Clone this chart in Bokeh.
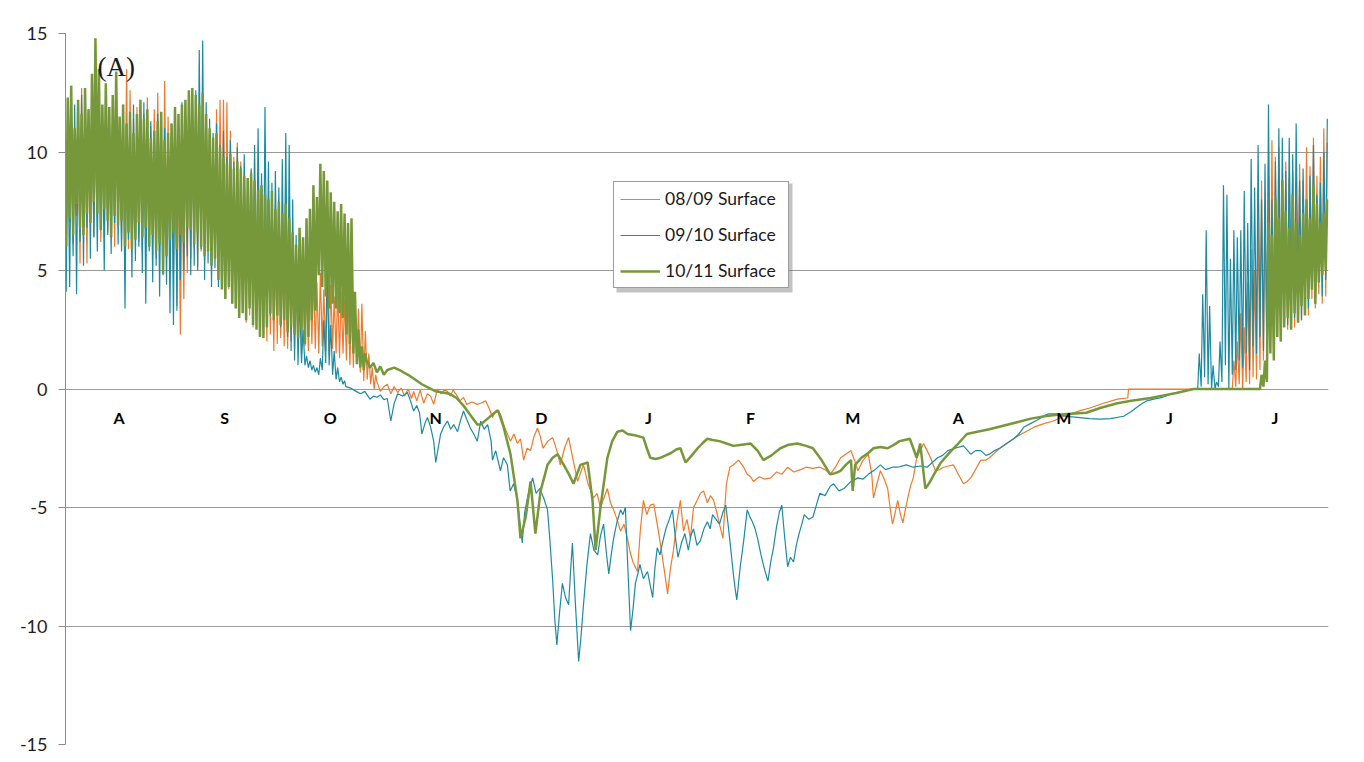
from bokeh.plotting import figure
from bokeh.models import FixedTicker, Legend, LegendItem, Label, BoxAnnotation, ColumnDataSource
from bokeh.embed import file_html
from bokeh.resources import INLINE
from bokeh.core.properties import value

# ---------------- data (days counted from 1 August) ----------------
MONTHS = ["A", "S", "O", "N", "D", "J", "F", "M", "A", "M", "J", "J"]
MONTH_DAYS = [31, 30, 31, 30, 31, 31, 28, 31, 30, 31, 30, 31]
Y_TICKS = [-15, -10, -5, 0, 5, 10, 15]
SERIES_NAMES = ["08/09 Surface", "09/10 Surface", "10/11 Surface"]

# 08/09 Surface : daily max / min (Aug 1 ..), smooth winter part, daily max / min at end
S0809_OSC_HI = [11.0, 11.8, 10.5, 12.0, 12.7, 11.3, 10.9, 11.6, 12.2, 10.8,
                11.5, 12.1, 11.0, 11.7, 12.4, 11.2, 12.0, 13.5, 12.6, 11.4,
                11.9, 10.8, 11.6, 12.3, 11.1, 11.8, 12.5, 11.0, 13.0, 11.5,
                10.6, 11.2, 10.1, 9.0, 10.8, 11.4, 10.5, 11.9, 11.2, 10.7,
                11.5, 11.0, 10.6, 11.8, 12.2, 12.2, 12.1, 10.9, 9.8, 10.4,
                9.6, 9.0, 8.7, 9.2, 8.3, 8.0, 8.6, 7.5, 7.1, 6.8,
                6.3, 5.9, 6.5, 5.6, 6.1, 5.4, 5.8, 5.0, 5.3, 4.7,
                5.1, 4.85, 4.5, 4.9, 4.2, 4.6, 4.4, 3.9, 4.3, 4.1,
                3.8, 4.1, 3.6, 3.9, 3.4, 3.6, 2.45, 1.5, 0.9, 0.6]
S0809_OSC_LO = [6.5, 7.0, 6.1, 7.3, 5.3, 6.8, 5.3, 7.1, 6.4, 7.6,
                6.2, 7.0, 6.6, 7.4, 6.0, 6.9, 6.3, 7.2, 5.9, 6.6,
                7.0, 6.2, 5.8, 6.7, 6.1, 6.9, 5.5, 6.4, 5.9, 6.3,
                5.6, 4.8, 3.5, 2.3, 3.8, 4.9, 5.5, 6.0, 5.2, 5.8,
                5.4, 6.0, 5.1, 5.7, 5.0, 5.5, 4.8, 4.2, 3.6, 3.8,
                3.2, 3.5, 2.8, 3.1, 2.6, 2.9, 2.2, 2.5, 2.0, 2.3,
                1.6, 1.9, 2.15, 1.8, 1.7, 2.0, 1.7, 1.9, 1.5, 1.8,
                1.6, 1.9, 1.7, 1.5, 1.8, 1.6, 1.4, 1.7, 1.5, 1.3,
                1.5, 1.2, 1.0, 0.9, 1.1, 0.7, 0.34, 0.4, 0.2, 0.0]
S0809_MID_DAY = [90, 91, 92, 93, 94, 95, 96, 97, 98, 99, 100, 100.6, 101.5, 102.5, 103.5, 104.6,
                 105.5, 106.4, 107.5, 108.5, 109.5, 110.4, 111.2, 112, 113, 114, 115, 116, 117.5,
                 119, 120, 121.4, 122.4, 123.4, 124.5, 125.7, 127, 128.6, 129.6, 130.6, 131.5,
                 132.4, 133.4, 134.4, 135.4, 136.4, 137.2, 138, 139.4, 140.8, 142, 143, 144.2,
                 145.4, 146.7, 148, 148.9, 149.7, 151, 152.6, 153.6, 154.6, 155.6, 156.6, 157.5,
                 158.4, 159.4, 160.4, 161.4, 162.4, 163.2, 164, 165.3, 166.1, 167, 168, 169, 170,
                 171, 172, 172.8, 173.4, 174, 174.8, 175.7, 176.7, 177.7, 178.6, 179.6, 180.6,
                 181.5, 182.5, 183.5, 184.4, 185.5, 186.4, 187.3, 188.2, 189, 190, 191, 192, 193,
                 194.5, 196, 197, 198, 198.8, 200.5, 202, 203.8, 205.5, 207, 208.7, 210.5, 212.4,
                 214, 216, 218, 219.5, 221, 222.5, 224, 225.5, 227, 228, 229, 230.5, 232, 233,
                 233.5, 234.5, 235.5, 236.6, 237.6, 238.3, 239, 239.8, 240.5, 241.3, 242, 242.7,
                 243.4, 244.2, 245, 246, 247, 248, 249, 250, 251.4, 252.6, 253.8, 255.2, 256.6,
                 258, 259.5, 260.6, 261.6, 263, 264.5, 266, 267, 268.5, 270, 272.5, 275, 277.5,
                 280, 283, 285.5, 288.5, 291.3, 293.5, 296, 300, 304, 307, 307.2, 336]
S0809_MID_VAL = [0.3, -0.1, 0.1, 0.2, -0.2, 0.1, -0.15, 0.04, -0.3, 0.0, -0.4, -0.1, -0.5, -0.05, -0.6, -0.2,
                 -0.3, -0.65, 0.0, -0.2, -0.05, -0.1, -0.3, -0.05, -0.25, -0.5, -0.35, -0.65, -0.55,
                 -0.65, -0.6, -0.5, -0.8, -1.2, -0.9, -1.05, -1.65, -2.2, -1.9, -2.3, -2.1,
                 -3.0, -2.5, -2.6, -2.0, -1.65, -2.0, -2.5, -2.2, -2.05, -2.6, -3.2, -2.5,
                 -2.05, -3.0, -3.9, -3.5, -3.2, -4.0, -4.6, -4.4, -5.0, -4.6, -4.2, -4.8,
                 -5.1, -5.5, -6.0, -5.7, -6.3, -6.9, -7.3, -7.7, -6.0, -4.7, -5.3, -4.9, -4.85,
                 -5.7, -6.6, -7.4, -8.0, -8.65, -7.6, -6.8, -5.6, -4.7, -6.0, -5.5, -6.3,
                 -5.0, -4.7, -4.4, -4.3, -4.8, -4.5, -4.7, -5.2, -5.7, -6.3, -4.0, -3.3, -3.2,
                 -3.0, -3.3, -3.6, -3.7, -3.9, -3.7, -3.8, -3.75, -3.5, -3.6, -3.3, -3.5, -3.4,
                 -3.3, -3.35, -3.3, -3.4, -3.6, -3.3, -2.9, -2.75, -2.6, -3.0, -3.45, -3.0, -2.75, -3.6,
                 -4.6, -4.0, -3.45, -3.8, -4.2, -5.0, -5.7, -5.2, -4.7, -5.3, -5.65, -5.1,
                 -4.6, -4.1, -3.75, -2.9, -2.6, -2.3, -2.6, -2.9, -3.45, -3.4, -3.3, -3.25, -3.2,
                 -3.6, -4.0, -3.9, -3.75, -3.4, -3.0, -3.0, -2.9, -2.7, -2.5, -2.25, -2.0, -1.8,
                 -1.6, -1.45, -1.35, -1.15, -1.0, -0.9, -0.8, -0.6, -0.43, -0.38, 0.0, 0.0]
S0809_END_START = 337
S0809_END_HI = [1.2, 2.0, 3.2, 2.6, 4.5, 5.9, 5.0, 7.4, 8.8, 7.8, 9.6, 10.5, 9.8, 10.2,
                8.4, 9.6, 8.9, 9.2, 8.6, 9.5, 8.8, 10.2, 9.4, 10.6, 9.0, 9.8, 11.0, 10.4]
S0809_END_LO = [0.0, 0.1, 0.2, 0.0, 0.3, 0.2, 0.5, 0.4, 0.8, 1.2, 1.0, 1.8, 1.5, 2.4,
                2.0, 2.8, 2.5, 3.0, 2.6, 3.3, 2.9, 3.5, 3.1, 3.8, 3.4, 4.0, 3.6, 3.9]

# 09/10 Surface
S0910_OSC_HI = [11.5, 10.8, 12.0, 11.2, 12.4, 11.0, 11.8, 12.6, 11.4, 12.2,
                11.3, 12.0, 10.9, 11.8, 12.5, 11.1, 11.7, 10.6, 11.4, 12.0,
                10.8, 11.5, 12.1, 10.9, 11.3, 10.7, 11.6, 10.4, 11.0, 10.5,
                11.2, 11.8, 10.9, 12.1, 11.4, 12.3, 11.9, 12.6, 14.3, 14.7,
                12.1, 11.4, 10.8, 11.2, 10.3, 10.9, 9.8, 10.5, 9.6, 10.2,
                9.4, 9.9, 8.8, 9.3, 10.3, 11.0, 9.1, 11.9, 9.6, 8.7,
                9.2, 8.5, 9.7, 10.8, 10.3, 8.0, 6.5, 4.0, 2.5, 1.4,
                1.2, 1.0, 0.9, 1.3, 2.9, 5.5, 2.7, 1.6, 0.9, 0.5, 0.35]
S0910_OSC_LO = [4.1, 4.3, 5.6, 4.0, 6.2, 5.2, 6.8, 5.5, 6.4, 5.8,
                6.9, 5.0, 6.5, 5.7, 7.0, 6.1, 5.8, 3.4, 6.3, 4.7,
                5.4, 6.0, 4.9, 3.6, 5.8, 4.5, 5.2, 3.9, 4.8, 4.4,
                3.2, 2.7, 3.3, 4.6, 5.0, 5.6, 4.8, 5.2, 5.0, 5.9,
                4.6, 5.3, 4.3, 5.1, 4.3, 4.8, 4.4, 5.0, 4.1, 4.7,
                4.3, 5.2, 4.0, 3.5, 4.8, 3.3, 4.2, 2.9, 3.6, 3.1,
                2.9, 3.4, 2.6, 3.0, 2.2, 1.6, 1.2, 1.0, 1.1, 1.0,
                0.9, 0.8, 0.7, 0.6, 0.8, 1.1, 1.0, 0.6, 0.4, 0.3, 0.2]
S0910_MID_DAY = [81, 82.4, 84, 85.3, 86.5, 88, 89, 90, 91, 92, 93, 94, 95, 96, 97.5, 98.8, 99.7,
                 100.6, 101.5, 102.3, 103, 104, 104.6, 105.5, 106.4, 107, 107.7, 108.4, 109.3,
                 110.4, 111.3, 112.2, 113.3, 114.2, 115, 116, 117, 118, 119, 120, 121, 122, 123,
                 123.4, 124.3, 125.7, 126.6, 127.7, 128.5, 129.5, 130.6, 131.3, 132, 132.7, 133.5,
                 134.3, 135, 136, 137, 138.2, 139.3, 140, 140.8, 141.4, 142, 142.8, 143.6, 144.5,
                 145.4, 146, 146.5, 147.3, 148.3, 149, 149.7, 150.7, 151.7, 152.7, 153.8, 154.6,
                 155.5, 156.3, 157, 157.7, 158.4, 159.4, 160.4, 161.1, 161.8, 162.5, 163.3, 164,
                 164.7, 165.4, 166, 167, 168.2, 169, 169.7, 170.3, 171, 171.8, 172.5, 173.5, 174.5,
                 175.4, 176.2, 177, 178, 179, 180, 180.7, 181.5, 182.5, 183.5, 184.5, 185.5, 186.3,
                 187, 188, 189, 190, 190.8, 191.4, 192, 192.5, 193, 193.5, 194, 194.5, 195, 196,
                 197, 197.8, 198.5, 199.3, 200, 201, 202, 203, 203.8, 204.6, 205.5, 206.3, 207,
                 207.8, 208.7, 209.5, 210.4, 211.2, 212, 212.8, 213.5, 214.8, 216, 217, 218, 219.5,
                 221, 222, 223.5, 225, 227, 229, 230.5, 232, 234, 235.5, 237, 239, 240.5, 243, 245,
                 247, 249, 250.5, 252, 253.5, 255, 257, 259.5, 261.6, 263, 264.5, 266, 267, 268.5,
                 270, 272, 274, 275.5, 277, 279, 281, 282.5, 284, 286.7, 289, 292.5, 296, 299, 302,
                 305.8, 308, 310.7, 312.5, 314.5, 317, 320, 323, 326]
S0910_MID_VAL = [0.1, 0.04, -0.1, -0.2, -0.1, -0.43, -0.3, -0.35, -0.25, -0.45, -0.4, -1.35, -0.6, -0.2, -0.3, -0.15, -0.5,
                 -0.93, -0.7, -1.0, -1.9, -1.4, -1.2, -1.6, -2.2, -3.1, -2.5, -1.9, -1.6,
                 -1.35, -1.7, -1.5, -1.8, -1.3, -0.93, -1.3, -1.65, -1.9, -2.2, -1.35, -1.7, -1.5, -2.2,
                 -3.0, -2.6, -3.45, -2.9, -3.2, -4.3, -4.0, -4.7, -5.6, -6.5, -5.2, -4.6,
                 -4.1, -3.75, -4.4, -4.2, -4.6, -5.1, -6.4, -8.1, -9.7, -10.8, -9.4, -8.2, -8.8,
                 -9.1, -7.6, -6.5, -8.9, -11.5, -10.4, -9.1, -7.4, -6.1, -6.8, -7.0, -6.2,
                 -5.7, -6.9, -7.8, -7.0, -6.3, -5.6, -5.1, -5.3, -5.0, -7.5, -10.2, -9.3,
                 -8.2, -7.8, -7.4, -8.0, -7.7, -8.3, -8.8, -7.6, -6.7, -7.0, -6.5, -5.9, -5.5,
                 -5.1, -6.2, -7.1, -6.5, -6.1, -6.8, -6.2, -5.9, -6.6, -6.4, -5.9, -5.6, -5.9,
                 -5.3, -5.5, -5.7, -5.2, -4.9, -5.6, -6.4, -7.1, -7.8, -8.4, -8.9, -8.2, -7.5, -6.4,
                 -5.1, -5.4, -5.6, -5.9, -6.3, -7.0, -7.6, -8.1, -7.3, -6.7, -5.8, -5.2, -4.9,
                 -6.2, -7.5, -7.1, -7.3, -6.6, -6.1, -5.7, -5.3, -5.5, -5.4, -4.9, -4.4, -4.5,
                 -4.1, -4.0, -4.3, -4.2, -3.9, -3.75, -3.8, -3.6, -3.4, -3.2, -3.4, -3.3, -3.3, -3.2, -3.3,
                 -3.25, -3.3, -3.1, -2.9, -2.8, -2.6, -2.5, -2.4, -2.75, -2.6, -2.6, -2.8, -2.75, -2.6,
                 -2.5, -2.3, -2.1, -1.9, -1.6, -1.45, -1.3, -1.15, -1.05, -1.05, -1.15, -1.2, -1.25, -1.27, -1.25,
                 -1.15, -0.95, -0.65, -0.5, -0.43, -0.35, -0.2, -0.1, 0.0]
S0910_END_START = 327
S0910_END_HI = [1.5, 4.0, 6.7, 3.5, 1.0, 0.3, 2.0, 8.6, 8.2, 5.5, 6.7, 6.4, 6.7, 8.35, 7.0,
                9.7, 8.5, 10.3, 8.0, 9.5, 12.0, 8.0, 9.6, 11.0, 10.6, 9.2, 10.6, 9.9, 11.2,
                8.8, 9.3, 7.8, 9.0, 10.3, 8.2, 8.7, 10.0, 11.4]
S0910_END_LO = [0.0, 0.1, 0.5, 0.2, 0.0, 0.0, 0.1, 0.3, 1.0, 0.0, 0.6, 0.8, 1.2, 0.9, 1.5,
                0.8, 1.8, 1.5, 2.2, 1.6, 1.5, 2.8, 2.0, 3.0, 2.4, 3.2, 2.7, 3.5, 3.0,
                3.8, 2.9, 4.0, 3.4, 4.2, 3.6, 4.5, 3.9, 4.6]

# 10/11 Surface
S1011_OSC_HI = [12.3, 12.8, 11.0, 12.2, 11.6, 12.7, 11.8, 13.3, 14.8, 13.5,
                12.0, 12.9, 11.9, 12.4, 13.4, 11.5, 12.0, 11.2, 11.7, 10.8,
                11.6, 12.2, 11.4, 11.8, 10.6, 10.9, 11.3, 11.7, 10.5, 10.8,
                11.2, 11.9, 11.6, 12.0, 12.2, 12.6, 12.7, 12.4, 12.0, 12.5,
                11.6, 11.0, 10.6, 10.8, 10.2, 9.8, 9.5, 9.9, 9.3, 9.6,
                9.3, 9.0, 8.9, 9.1, 8.8, 8.4, 8.6, 8.2, 8.0, 8.35,
                7.6, 7.9, 7.4, 7.8, 7.2, 6.6, 6.1, 6.8, 6.4, 7.2,
                7.6, 8.6, 8.1, 9.5, 9.2, 8.8, 8.3, 7.9, 7.5, 7.8,
                7.4, 7.0, 7.2, 4.1, 2.5, 1.8, 1.5]
S1011_OSC_LO = [6.0, 7.2, 6.5, 7.8, 6.8, 6.5, 7.4, 7.0, 7.9, 7.4,
                6.7, 7.6, 7.1, 6.4, 7.3, 6.9, 7.1, 6.0, 6.6, 5.9,
                6.3, 7.0, 6.4, 6.8, 6.0, 6.5, 5.8, 6.1, 4.85, 5.6,
                6.3, 6.6, 5.9, 6.5, 6.2, 6.8, 6.7, 6.1, 6.6, 6.0,
                5.6, 5.8, 5.2, 5.5, 4.6, 4.2, 3.8, 4.3, 3.6, 3.4,
                3.0, 3.2, 2.9, 3.4, 2.7, 2.5, 2.2, 2.15, 2.6, 3.2,
                2.9, 3.1, 2.7, 2.9, 2.4, 2.6, 2.3, 2.15, 2.5, 1.9,
                2.2, 2.9, 3.3, 4.8, 4.3, 3.9, 3.4, 3.6, 3.4, 3.2,
                3.0, 2.3, 1.9, 1.5, 1.05, 0.9, 0.8]
S1011_MID_DAY = [87, 88, 89, 90, 91, 92, 93, 95, 97, 99, 101, 103, 105, 107, 109, 111, 113, 115,
                 117, 119, 120, 122, 124, 125, 126.6, 128.6, 130.6, 131.5, 133, 134.4, 135.8,
                 137.3, 139.3, 140.8, 142.2, 144, 145.5, 146.8, 148.8, 150.9, 152.3, 153.2, 154.6, 156.6,
                 158, 159.5, 161, 162.4, 164.5, 167, 168, 169, 170.5, 172, 173.5, 175, 176.5, 177.7,
                 179.2, 181, 182.7, 184, 185.5, 187, 189, 191, 193, 195.5, 198, 200, 201.7, 204,
                 206.6, 209, 211.5, 214, 216, 218.5, 221, 222.5, 224, 225.5, 227, 227.5, 228.2,
                 230, 232, 233.5, 235.5, 237.6, 239.5, 241, 242.5, 244, 245, 246, 247, 248.5,
                 249.5, 251, 253, 256, 258, 260.5, 263.5, 267, 271, 275, 279, 283, 286, 289.6, 295,
                 299, 304, 308, 313.6, 317, 321, 326, 344]
S1011_MID_VAL = [1.2, 0.9, 1.1, 0.7, 0.95, 0.6, 0.8, 0.9, 0.76, 0.6, 0.4, 0.2, 0.05, -0.1, -0.15, -0.2, -0.38, -0.7,
                 -1.1, -1.5, -1.5, -1.25, -1.0, -0.9, -1.6, -2.75, -4.7, -6.3, -5.4, -3.9, -6.1,
                 -4.3, -3.2, -2.9, -2.75, -3.2, -3.6, -4.0, -3.2, -3.1, -4.7, -6.8, -5.0, -2.9,
                 -2.2, -1.8, -1.75, -1.9, -1.95, -2.05, -2.5, -2.9, -2.95, -2.9, -2.8, -2.7, -2.55, -2.5,
                 -3.1, -2.8, -2.5, -2.3, -2.1, -2.15, -2.2, -2.3, -2.4, -2.35, -2.3, -2.6, -3.0, -2.8,
                 -2.5, -2.35, -2.3, -2.4, -2.5, -3.0, -3.6, -3.55, -3.45, -3.2, -3.0, -4.3, -3.2,
                 -2.9, -2.7, -2.5, -2.45, -2.5, -2.35, -2.2, -2.15, -2.1, -2.5, -2.9, -2.3, -4.2,
                 -4.0, -3.6, -3.1, -2.6, -2.3, -1.9, -1.8, -1.7, -1.55, -1.4, -1.25, -1.15, -1.1, -1.05, -1.0,
                 -0.8, -0.6, -0.5, -0.38, -0.28, -0.17, 0.0, 0.0]
S1011_END_START = 345
S1011_END_HI = [0.6, 1.2, 7.0, 6.5, 8.0, 7.2, 8.8, 7.5, 6.8, 8.2, 7.0, 6.5, 7.4, 8.0, 7.2,
                8.6, 7.8, 7.0, 7.4, 8.0]
S1011_END_LO = [0.0, 0.1, 0.3, 1.5, 1.2, 2.2, 2.0, 2.6, 3.0, 2.5, 3.2, 2.8, 3.5, 3.1, 3.8,
                4.2, 3.6, 4.5, 4.8, 5.0]


def build(osc_hi, osc_lo, mid_day, mid_val, end_start, end_hi, end_lo):
    xs, ys = [], []
    for i, (h, l) in enumerate(zip(osc_hi, osc_lo)):
        xs += [i + 0.2, i + 0.65]
        ys += [l, h]
    xs += list(mid_day)
    ys += list(mid_val)
    for i, (h, l) in enumerate(zip(end_hi, end_lo)):
        d = end_start + i
        xs += [d + 0.2, d + 0.65]
        ys += [l, h]
    return xs, ys


x1, y1 = build(S0809_OSC_HI, S0809_OSC_LO, S0809_MID_DAY, S0809_MID_VAL,
               S0809_END_START, S0809_END_HI, S0809_END_LO)
x2, y2 = build(S0910_OSC_HI, S0910_OSC_LO, S0910_MID_DAY, S0910_MID_VAL,
               S0910_END_START, S0910_END_HI, S0910_END_LO)
x3, y3 = build(S1011_OSC_HI, S1011_OSC_LO, S1011_MID_DAY, S1011_MID_VAL,
               S1011_END_START, S1011_END_HI, S1011_END_LO)

# month label centres from month lengths
centres = []
acc = 0
for n in MONTH_DAYS:
    centres.append(acc + n / 2.0)
    acc += n
TOTAL_DAYS = acc

FONT = "Lato"
ORANGE = "#EF7A2C"
TEAL = "#1D8AA3"
GREEN = "#76983A"

p = figure(width=1357, height=756, x_range=(0, TOTAL_DAYS), y_range=(-15, 15),
           output_backend="svg", toolbar_location=None, x_axis_location=None,
           min_border_left=65, min_border_right=29, min_border_top=33, min_border_bottom=12)
p.outline_line_color = None
p.background_fill_color = "white"
p.border_fill_color = "white"
p.xgrid.visible = False
p.ygrid.ticker = FixedTicker(ticks=Y_TICKS)
p.ygrid.grid_line_color = "#9a9a9a"
p.ygrid.grid_line_width = 1

ax = p.yaxis[0]
ax.ticker = FixedTicker(ticks=Y_TICKS)
ax.major_label_overrides = {t: str(t) for t in Y_TICKS}
ax.axis_line_color = "#8c8c8c"
ax.major_tick_line_color = "#8c8c8c"
ax.major_tick_out = 7
ax.major_tick_in = 0
ax.minor_tick_line_color = None
ax.major_label_standoff = 11
ax.major_label_text_font = FONT
ax.major_label_text_font_size = "18px"
ax.major_label_text_color = "#1e1e1e"

r1 = p.line(x1, y1, line_color=ORANGE, line_width=1.2)
r2 = p.line(x2, y2, line_color=TEAL, line_width=1.2)
r3 = p.line(x3, y3, line_color=GREEN, line_width=2.5)

msrc = ColumnDataSource(dict(x=centres, y=[-1.2] * len(MONTHS), t=MONTHS))
p.text(x="x", y="y", text="t", source=msrc, text_font=value(FONT), text_font_style="bold",
       text_font_size="16px", text_align="center", text_baseline="middle", text_color="#000000")

p.add_layout(Label(x=9.25, y=13.6, text="(A)", text_font="Liberation Serif",
                   text_font_size="27px", text_baseline="middle", text_color="#1a1a1a"))

# legend drop shadow (screen px, frame-relative, y upward)
shadow = BoxAnnotation(left=551, right=727, bottom=452, top=561,
                       left_units="screen", right_units="screen",
                       top_units="screen", bottom_units="screen",
                       fill_color="#7a7a7a", fill_alpha=0.45, line_color=None, level="overlay")
p.add_layout(shadow)

legend = Legend(items=[LegendItem(label=SERIES_NAMES[0], renderers=[r1]),
                       LegendItem(label=SERIES_NAMES[1], renderers=[r2]),
                       LegendItem(label=SERIES_NAMES[2], renderers=[r3])],
                location=(548, 456), padding=6, spacing=15, margin=0,
                glyph_width=40, glyph_height=20, label_height=20, label_standoff=5,
                label_width=117,
                label_text_font=FONT, label_text_font_size="17.5px", label_text_color="#1a1a1a",
                border_line_color="#3a3a3a", border_line_width=1,
                background_fill_color="white", background_fill_alpha=1.0)
p.add_layout(legend)

open("out.html", "w").write(file_html(p, INLINE))
